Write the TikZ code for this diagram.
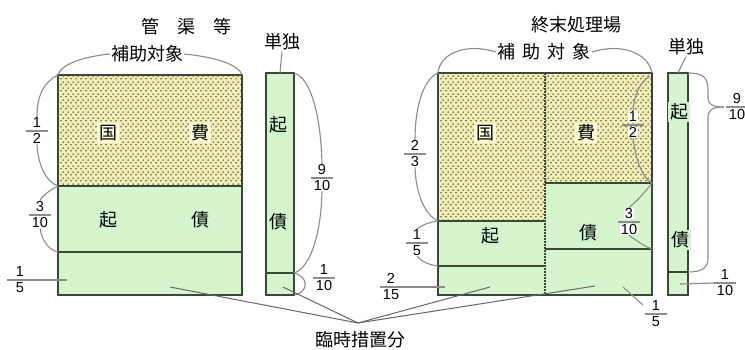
\documentclass[tikz,border=0pt]{standalone}
\usepackage{fontspec}
\setmainfont{Liberation Sans}
\newfontfamily\jp{Noto Sans CJK JP}
\usetikzlibrary{patterns}
\definecolor{greenc}{RGB}{214,245,204}
\definecolor{yellowc}{RGB}{242,238,184}
\definecolor{dotc}{RGB}{96,96,52}
\definecolor{framec}{RGB}{58,72,58}
\definecolor{leadc}{RGB}{140,140,140}
\definecolor{ybox}{RGB}{251,248,214}
\definecolor{gbox}{RGB}{206,245,206}
\pgfdeclarepatternformonly{mydots}{\pgfpointorigin}{\pgfpoint{5pt}{6pt}}{\pgfpoint{5pt}{6pt}}{%
  \pgfpathcircle{\pgfpoint{1.25pt}{1.5pt}}{1.05pt}%
  \pgfpathcircle{\pgfpoint{3.75pt}{4.5pt}}{1.05pt}%
  \pgfusepath{fill}}
\newcommand\frc[5][11]{%
  \coordinate (#2) at #3;
  \draw[fbar] ([xshift=-#1pt]#2) -- ([xshift=#1pt]#2);
  \node[fpart, anchor=south] (#2n) at ([yshift=2.5pt]#2) {#4};
  \node[fpart, anchor=north] (#2d) at ([yshift=-1.5pt]#2) {#5};}
\begin{document}
\begin{tikzpicture}[x=1pt,y=-1pt,
  frame/.style={draw=framec, line width=1.4pt},
  divline/.style={draw=framec, line width=1.3pt},
  lead/.style={draw=leadc, line width=1.1pt},
  fbar/.style={draw=leadc, line width=1.2pt},
  fpart/.style={font=\fontsize{14.5}{15}\selectfont, inner sep=0.6pt, fill=white},
  kj/.style={font=\jp\fontsize{18}{18}\selectfont, inner sep=2pt},
  ylab/.style={kj, fill=ybox},
  glab/.style={kj, fill=gbox},
  title/.style={font=\jp\fontsize{18}{18}\selectfont, inner sep=1pt, fill=white},
  dots/.style={pattern=mydots, pattern color=dotc}]
\fill[white] (0,0) rectangle (745,350);
\useasboundingbox (0,0) rectangle (745,350);

% ---------- left diagram ----------
\fill[greenc] (58,186) rectangle (242,295);
\fill[yellowc] (58,75) rectangle (242,186);
\fill[dots] (58,75) rectangle (242,186);
\draw[frame] (58,75) rectangle (242,295);
\draw[divline] (58,186) -- (242,186);
\draw[divline] (58,252) -- (242,252);
\fill[greenc] (266,73) rectangle (294,295);
\draw[frame] (266,73) rectangle (294,295);
\draw[divline] (266,273) -- (294,273);

\node[ylab] (k1) at (108,133) {国};
\node[ylab] (k2) at (200,133) {費};
\node[glab] (k3) at (108,220) {起};
\node[glab] (k4) at (200,220) {債};
\node[glab] (k5) at (278,125) {起};
\node[glab] (k6) at (278,222) {債};

\node[title] (tL) at (186,27) {管\quad 渠\quad 等};
\node[title] (hL) at (147,54) {補助対象};
\node[title] (sL) at (282,42) {単独};

% ---------- right diagram ----------
\fill[greenc] (438,73) rectangle (652,295);
\fill[yellowc] (438,73) rectangle (545,221);
\fill[yellowc] (545,73) rectangle (652,183);
\fill[dots] (438,73) rectangle (545,221);
\fill[dots] (545,73) rectangle (652,183);
\draw[frame] (438,73) rectangle (652,295);
\draw[divline] (438,221) -- (545,221);
\draw[divline] (545,183) -- (652,183);
\draw[divline] (438,266) -- (545,266);
\draw[divline] (545,249) -- (652,249);
\draw[draw=framec, line width=1.4pt, dash pattern=on 2pt off 1pt] (545,73) -- (545,295);
\fill[greenc] (668,73) rectangle (688,295);
\draw[frame] (668,73) rectangle (688,295);
\draw[divline] (668,272) -- (688,272);

\node[ylab] (r1) at (485,133) {国};
\node[ylab] (r2) at (586,133) {費};
\node[glab] (r3) at (490,236) {起};
\node[glab] (r4) at (588,233) {債};
\node[glab] (r5) at (679,112) {起};
\node[glab] (r6) at (680,240) {債};

\node[title] (tR) at (576,25) {終末処理場};
\node[title] (hR) at (544,52) {補\hspace{0.4em}助\hspace{0.4em}対\hspace{0.4em}象};
\node[title] (sR) at (686,47) {単独};

\node[title] (rin) at (360,340) {臨時措置分};
\coordinate (cv) at (358,323);

% ---------- brackets / leaders, left ----------
\draw[lead] (58,75) .. controls (62,62) and (90,56) .. (hL.west);
\draw[lead] (hL.east) .. controls (205,56) and (238,62) .. (242,75);
\draw[lead] (sL.south) -- (280,73);

\frc{fa}{(37,131)}{1}{2}
\draw[lead] (58,75) .. controls (44,82) and (37,95) .. (fan.north);
\draw[lead] (fad.south) .. controls (38,165) and (46,182) .. (58,186);
\frc{fb}{(40,215)}{3}{10}
\draw[lead] (58,186) .. controls (50,190) and (42,196) .. (fbn.north);
\draw[lead] (fbd.south) .. controls (42,240) and (48,250) .. (58,252);
\draw[fbar] (7,280) -- (67,280);
\frc{fc}{(20,280)}{1}{5}

\frc{fd}{(322,178)}{9}{10}
\draw[lead] (294,73) .. controls (312,78) and (321,120) .. (fdn.north);
\draw[lead] (fdd.south) .. controls (321,235) and (310,268) .. (294,273);
\frc{fe}{(324,278)}{1}{10}
\draw[lead] (294,273) .. controls (308,276) and (310,292) .. (294,295);

% ---------- brackets / leaders, right ----------
\draw[lead] (438,73) .. controls (440,52) and (468,43) .. (hR.west);
\draw[lead] (hR.east) .. controls (620,43) and (648,52) .. (652,73);
\draw[lead] (sR.south) -- (678,73);

\frc{fg}{(415,154)}{2}{3}
\draw[lead] (438,73) .. controls (422,80) and (415,110) .. (fgn.north);
\draw[lead] (fgd.south) .. controls (416,195) and (425,215) .. (438,221);
\frc{fh}{(417,243)}{1}{5}
\draw[lead] (438,221) .. controls (430,222) and (424,224) .. (fhn.north);
\draw[lead] (fhd.south) .. controls (422,262) and (430,265) .. (438,266);
\draw[fbar] (380,287) -- (445,287);
\frc{fi}{(391,287)}{2}{15}

\frc{fj}{(633,125)}{1}{2}
\draw[lead] (650,76) .. controls (640,82) and (634,95) .. (fjn.north);
\draw[lead] (fjd.south) .. controls (636,160) and (642,178) .. (652,183);
\frc{fk}{(629,222)}{3}{10}
\draw[lead] (652,183) .. controls (645,192) and (638,200) .. (fkn.north);
\draw[lead] (fkd.south) .. controls (640,243) and (646,247) .. (652,249);

\frc{fl}{(737,107)}{9}{10}
\draw[lead] (688,73) .. controls (704,73) and (708,78) .. (708,90) -- (708,98)
  .. controls (708,104) and (712,107) .. (724,107);
\draw[lead] (724,107) .. controls (712,107) and (708,110) .. (708,118) -- (708,258)
  .. controls (708,268) and (702,272) .. (688,272);
\draw[fbar] (680,284) -- (714,283);
\frc{fm}{(725,283)}{1}{10}
\draw[lead] (623,287) -- (643,305);
\frc{fn}{(656,314)}{1}{5}

% ---------- 臨時措置分 ----------
\draw[draw=gray!80!black, line width=1pt] (170,287) -- (cv);
\draw[draw=gray!80!black, line width=1pt] (283,287) -- (cv);
\draw[draw=gray!80!black, line width=1pt] (490,287) -- (cv);
\draw[draw=gray!80!black, line width=1pt] (595,286) -- (cv);
\end{tikzpicture}
\end{document}
